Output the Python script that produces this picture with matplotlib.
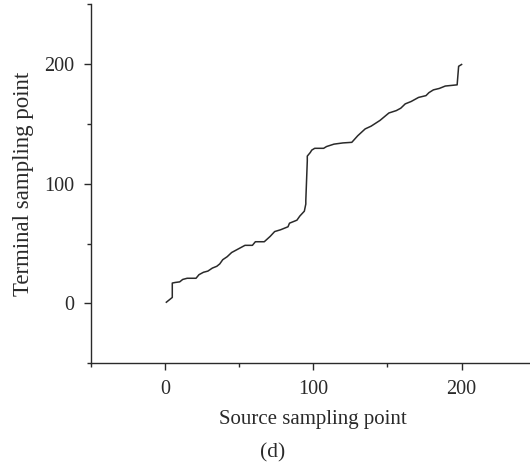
import numpy as np
from matplotlib import pyplot as plt
from matplotlib.ticker import MultipleLocator

# warping path: source index -> terminal index
src = [1, 5, 5, 7, 10, 12, 15, 21, 23, 26,
       29, 32, 35, 37, 39, 42, 45, 48, 51, 54,
       59, 61, 67, 71, 74, 78, 83, 84, 89, 91,
       94, 95, 95, 96, 96, 98, 99, 101, 107, 109,
       114, 120, 126, 130, 135, 139, 145, 151, 156, 159,
       162, 166, 171, 176, 178, 181, 185, 189, 197, 198,
       200]
term = [1, 5, 17, 17.5, 18, 20, 21, 21, 24, 26,
        27, 29.5, 31, 33, 36.5, 39, 42.5, 44.5, 46.5, 48.5,
        48.5, 51.5, 51.5, 56, 60, 61.5, 64, 67, 69.5, 73,
        77, 83, 86, 119, 123, 126, 128, 129.5, 129.5, 131,
        133, 134, 134.5, 140, 145.7, 148, 152.8, 159, 161, 163,
        166.6, 168.6, 172, 173.5, 176, 178.3, 179.5, 181.5, 182.5, 198,
        199.5]

plt.rcParams['font.family'] = ['Liberation Serif', 'DejaVu Serif']
ink = '#2a2a2a'

fig = plt.figure(figsize=(5.3, 4.7), dpi=100)
ax = fig.add_axes([0.1711, 0.227, 0.8398, 0.7645])

ax.plot(np.array(src), np.array(term), color=ink, lw=1.1)

ax.set_xlim(-50, 250)
ax.set_ylim(-50, 250)
ax.xaxis.set_major_locator(MultipleLocator(100))
ax.xaxis.set_minor_locator(MultipleLocator(50))
ax.yaxis.set_major_locator(MultipleLocator(100))
ax.yaxis.set_minor_locator(MultipleLocator(50))

for s in ['top', 'right']:
    ax.spines[s].set_visible(False)
for s in ['left', 'bottom']:
    ax.spines[s].set_color(ink)
    ax.spines[s].set_linewidth(1.0)

ax.tick_params(which='major', direction='out', length=5, width=1.0,
               color=ink, labelcolor=ink, labelsize=14.5, pad=7)
ax.tick_params(which='minor', direction='out', length=3, width=1.0, color=ink)

ax.set_xlabel('Source sampling point', fontsize=15, color=ink, va='center')
ax.xaxis.set_label_coords(0.5, -0.155)
ax.set_ylabel('Terminal sampling point', fontsize=16.5, color=ink, va='center')
ax.yaxis.set_label_coords(-0.152, 0.5)

fig.text(0.515, 1 - 453 / 470, '(d)', ha='center', va='center',
         fontsize=15.5, color=ink)

fig.savefig('out.png', dpi=100)
